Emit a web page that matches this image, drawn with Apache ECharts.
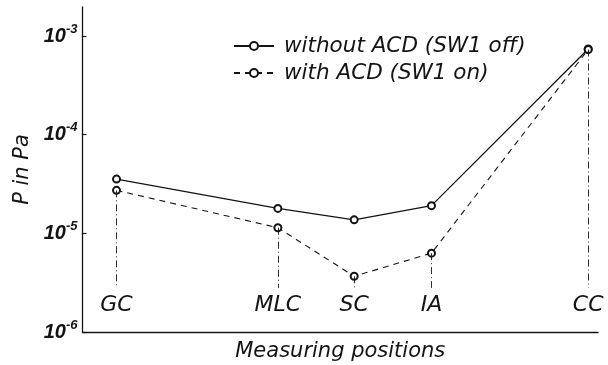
<!DOCTYPE html>
<html>
<head>
<meta charset="utf-8">
<script src="https://cdn.jsdelivr.net/npm/echarts@6/dist/echarts.min.js"></script>
<style>
html,body{margin:0;padding:0;background:#fff;}
#chart{width:608px;height:365px;}
</style>
</head>
<body>
<div id="chart"></div>
<script>
// Measuring positions (labels) and their places along the horizontal axis (0-100 scale)
var categories = ['GC', 'MLC', 'SC', 'IA', 'CC'];
var positions = [6.6, 37.9, 52.7, 67.7, 98.1];
// Pressure in Pa
var withoutACD = [3.55e-5, 1.79e-5, 1.37e-5, 1.91e-5, 7.4e-4];
var withACD = [2.73e-5, 1.14e-5, 3.67e-6, 6.3e-6, 7.3e-4];
var seriesNames = ['without ACD (SW1 off)', 'with ACD (SW1 on)'];
var yTicks = [1e-6, 1e-5, 1e-4, 1e-3];
var yMin = 1e-6, yMax = 1.97e-3;
var dropEnd = 2.8e-6;      // lower end of the vertical drop lines
var labelLevel = 1.88e-6;  // level where position labels sit

var FONT = '"DejaVu Sans", sans-serif';
var INK = '#141414';

var dropLines = categories.map(function (c, i) {
  return [
    { coord: [positions[i], Math.min(withoutACD[i], withACD[i])] },
    { coord: [positions[i], dropEnd] }
  ];
});

var chart = echarts.init(document.getElementById('chart'), null, { renderer: 'canvas' });
chart.setOption({
  backgroundColor: '#fff',
  animation: false,
  grid: { left: 82.5, right: 10, top: 7, bottom: 33, containLabel: false, outerBoundsMode: 'none' },
  legend: {
    orient: 'vertical',
    left: 228,
    top: 30,
    itemWidth: 40,
    itemHeight: 10,
    itemGap: 5,
    data: seriesNames,
    textStyle: { fontFamily: FONT, fontStyle: 'italic', fontSize: 21.5, color: INK, padding: [0, 0, 0, 5] }
  },
  xAxis: {
    type: 'value',
    min: 0,
    max: 100,
    name: 'Measuring positions',
    nameLocation: 'middle',
    nameGap: 9,
    nameTextStyle: { fontFamily: FONT, fontStyle: 'italic', fontSize: 21, color: INK, verticalAlign: 'top' },
    axisLine: { lineStyle: { color: INK, width: 1.3 } },
    axisTick: { show: false },
    axisLabel: { show: false },
    splitLine: { show: false }
  },
  yAxis: {
    type: 'log',
    logBase: 10,
    min: yMin,
    max: yMax,
    name: 'P in Pa',
    nameLocation: 'middle',
    nameRotate: 90,
    nameGap: 49,
    nameTextStyle: { fontFamily: FONT, fontStyle: 'italic', fontSize: 21, color: INK },
    axisLine: { show: true, lineStyle: { color: INK, width: 1.3 } },
    axisTick: { show: true, inside: true, length: 4, customValues: yTicks, lineStyle: { color: INK, width: 1.2 } },
    axisLabel: {
      show: true,
      customValues: yTicks,
      margin: 5,
      formatter: function (v) {
        var e = Math.round(Math.log(v) / Math.LN10);
        return '{b|10}{s|' + e + '}';
      },
      rich: {
        b: { fontFamily: '"Liberation Sans", Arial, sans-serif', fontStyle: 'italic', fontWeight: 'bold', fontSize: 20, color: INK },
        s: { fontFamily: '"Liberation Sans", Arial, sans-serif', fontStyle: 'italic', fontWeight: 'bold', fontSize: 13, color: INK, padding: [0, 0, 14, 0] }
      }
    },
    splitLine: { show: false }
  },
  series: [
    {
      name: seriesNames[0],
      type: 'line',
      data: positions.map(function (x, i) { return [x, withoutACD[i]]; }),
      symbol: 'emptyCircle',
      symbolSize: 7,
      showSymbol: true,
      itemStyle: { color: INK, borderColor: INK, borderWidth: 1 },
      lineStyle: { color: INK, width: 1.3 },
      z: 3
    },
    {
      name: seriesNames[1],
      type: 'line',
      data: positions.map(function (x, i) { return [x, withACD[i]]; }),
      symbol: 'emptyCircle',
      symbolSize: 7,
      showSymbol: true,
      itemStyle: { color: INK, borderColor: INK, borderWidth: 1 },
      lineStyle: { color: INK, width: 1.1, type: [6, 5] },
      z: 3,
      markLine: {
        silent: true,
        symbol: ['none', 'none'],
        label: { show: false },
        lineStyle: { color: INK, width: 0.9, type: [7, 3, 1, 3] },
        data: dropLines
      }
    },
    {
      name: 'positions',
      type: 'scatter',
      data: positions.map(function (x, i) { return { value: [x, labelLevel], name: categories[i] }; }),
      symbolSize: 0,
      silent: true,
      itemStyle: { opacity: 1 },
      label: {
        show: true,
        position: 'inside',
        formatter: '{b}',
        fontFamily: FONT,
        fontStyle: 'italic',
        fontSize: 22,
        color: INK
      }
    }
  ]
});
</script>
</body>
</html>
